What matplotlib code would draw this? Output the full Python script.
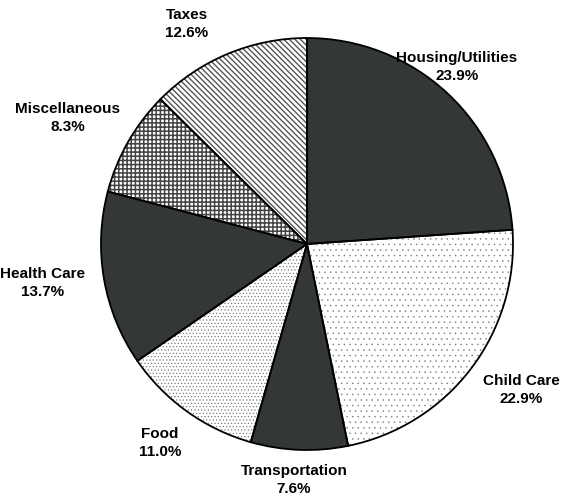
import matplotlib
matplotlib.use("Agg")
import matplotlib.pyplot as plt

categories = ["Housing/Utilities", "Child Care", "Transportation", "Food",
              "Health Care", "Miscellaneous", "Taxes"]
shares = [23.9, 22.9, 7.6, 11.0, 13.7, 8.3, 12.6]

dark = "#333738"
# fill style per slice: (facecolor, hatch, hatch colour, hatch width)
styles = [
    (dark, None, dark, 1.0),
    ("white", "...", "#777777", 0.3),
    (dark, None, dark, 1.0),
    ("white", ".....", "#666666", 0.4),
    (dark, None, dark, 1.0),
    ("white", "++++", "#444444", 1.1),
    ("white", "\\" * 6, "#555555", 1.0),
]

# label block centres in pixels of the 582x500 image
label_px = [(457, 67), (521, 390), (294, 480), (160, 443),
            (43, 283), (68, 118), (187, 24)]

W, H = 582, 500
cx, cy, r = 307, 244, 206

plt.rcParams["font.family"] = ["Liberation Sans", "DejaVu Sans"]

fig = plt.figure(figsize=(W / 100, H / 100), dpi=100)
ax = fig.add_axes([0, 0, 1, 1])

wedges, _ = ax.pie(shares, startangle=90, counterclock=False, radius=1.0,
                   center=(0, 0), frame=True)
for w, (fc, hatch, hc, hlw) in zip(wedges, styles):
    w.set_facecolor(fc)
    w.set_edgecolor(hc)
    w.set_linewidth(0)
    if hatch:
        w.set_hatch(hatch)
        if hasattr(w, "set_hatch_linewidth"):
            w.set_hatch_linewidth(hlw)

# outlines on top
ax.pie(shares, startangle=90, counterclock=False, radius=1.0, center=(0, 0),
       frame=True,
       wedgeprops=dict(facecolor="none", edgecolor="black", linewidth=1.3))
ax.set_xlim(-cx / r, (W - cx) / r)
ax.set_ylim(-(H - cy) / r, cy / r)
ax.set_aspect("auto")
ax.axis("off")

for name, val, (px, py) in zip(categories, shares, label_px):
    ax.text((px - cx) / r, (cy - py) / r, f"{name}\n{val:.1f}%",
            ha="center", va="center", multialignment="center",
            fontsize=11, fontweight="bold", linespacing=1.3)

fig.savefig("out.png", dpi=100)
